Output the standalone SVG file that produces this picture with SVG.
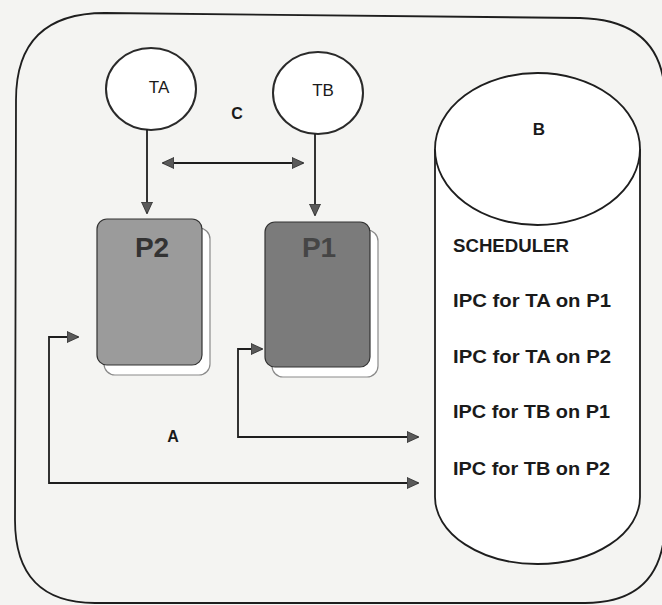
<svg xmlns="http://www.w3.org/2000/svg" width="662" height="605" viewBox="0 0 662 605">
<style>
  .ln{fill:none;stroke:#1e1e1e;stroke-width:1.8}
  .t{font-family:"Liberation Sans",Arial,sans-serif;fill:#1a1a1a}
  .b{font-weight:bold}
  .proc-shadow{fill:#ffffff;stroke:#8a8a8a;stroke-width:1.2}
  .proc{stroke:#333;stroke-width:1.2}
</style>
<defs>
  <marker id="ah" markerUnits="userSpaceOnUse" markerWidth="13" markerHeight="13" refX="11" refY="6" orient="auto-start-reverse" viewBox="0 0 13 12">
    <path d="M0,0.5 L12,6 L0,11.5 Z" fill="#5a5a5a" stroke="#2a2a2a" stroke-width="0.8"/>
  </marker>
</defs>
<rect x="0" y="0" width="662" height="605" fill="#f4f4f2"/>
<g id="frame">
  <path class="ln" d="M105 13 L580 18 Q665 20 665 100 L665 520 Q665 603 585 603 L95 603 Q15 603 15 520 L16 100 Q16 13 105 13 Z"/>
</g>
<g id="TA">
  <ellipse cx="151" cy="89" rx="45" ry="41" fill="#ffffff" stroke="#2a2a2a" stroke-width="2"/>
  <text class="t" x="159" y="93" font-size="17" text-anchor="middle">TA</text>
</g>
<g id="TB">
  <ellipse cx="318" cy="93" rx="45" ry="41" fill="#ffffff" stroke="#2a2a2a" stroke-width="2"/>
  <text class="t" x="323" y="96" font-size="17" text-anchor="middle">TB</text>
</g>
<g id="labelC"><text class="t b" x="237" y="119" font-size="16" text-anchor="middle">C</text></g>
<g id="P2">
  <rect class="proc-shadow" x="104" y="228" width="106" height="147" rx="11"/>
  <rect class="proc" x="97" y="219" width="105" height="146" rx="10" fill="#9b9b9b"/>
  <text class="t b" x="152" y="257" font-size="28" text-anchor="middle" style="fill:#333333">P2</text>
</g>
<g id="P1">
  <rect class="proc-shadow" x="272" y="230" width="106" height="147" rx="11"/>
  <rect class="proc" x="265" y="222" width="105" height="145" rx="10" fill="#7b7b7b"/>
  <text class="t b" x="319" y="257" font-size="28" text-anchor="middle" style="fill:#454545">P1</text>
</g>
<g id="labelA"><text class="t b" x="173" y="442" font-size="16" text-anchor="middle">A</text></g>
<g id="B">
  <path d="M435 149 L435 497 A102.5 67 0 0 0 640 497 L640 149" fill="#ffffff" stroke="#1e1e1e" stroke-width="1.8"/>
  <ellipse cx="537.5" cy="149" rx="102.5" ry="76" fill="#ffffff" stroke="#1e1e1e" stroke-width="1.8"/>
  <text class="t b" x="539" y="135" font-size="17" text-anchor="middle">B</text>
  <text class="t b" x="453" y="252" font-size="18" textLength="116" lengthAdjust="spacingAndGlyphs">SCHEDULER</text>
  <text class="t b" x="453" y="307" font-size="19" textLength="158" lengthAdjust="spacingAndGlyphs">IPC for TA on P1</text>
  <text class="t b" x="453" y="363" font-size="19" textLength="158" lengthAdjust="spacingAndGlyphs">IPC for TA on P2</text>
  <text class="t b" x="453" y="418" font-size="19" textLength="157" lengthAdjust="spacingAndGlyphs">IPC for TB on P1</text>
  <text class="t b" x="453" y="475" font-size="19" textLength="157" lengthAdjust="spacingAndGlyphs">IPC for TB on P2</text>
</g>
<g id="connectors">
  <path class="ln" d="M147 129 V213" marker-end="url(#ah)"/>
  <path class="ln" d="M315 134 V215" marker-end="url(#ah)"/>
  <path class="ln" d="M163 163 H303" marker-start="url(#ah)" marker-end="url(#ah)"/>
  <path class="ln" d="M78 337 H49 V483 H418" marker-start="url(#ah)" marker-end="url(#ah)"/>
  <path class="ln" d="M262 349 H238 V437 H418" marker-start="url(#ah)" marker-end="url(#ah)"/>
</g>
</svg>
